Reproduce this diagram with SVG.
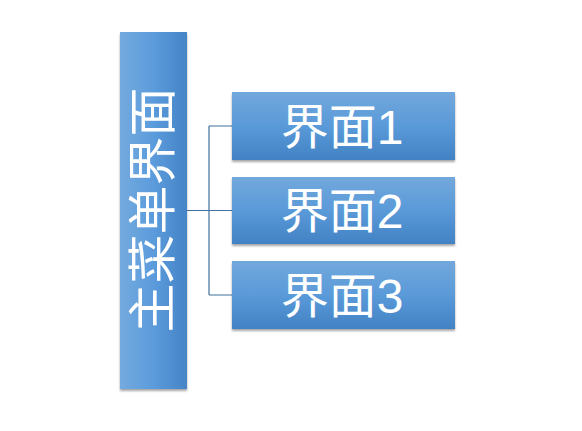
<svg xmlns="http://www.w3.org/2000/svg" width="582" height="431" viewBox="0 0 582 431">
<defs>
<linearGradient id="gh" x1="0" y1="0" x2="1" y2="0">
<stop offset="0" stop-color="#74aade"/>
<stop offset="0.5" stop-color="#5b9bdc"/>
<stop offset="1" stop-color="#4584c6"/>
</linearGradient>
<linearGradient id="gv" x1="0" y1="0" x2="0" y2="1">
<stop offset="0" stop-color="#72a8dc"/>
<stop offset="0.5" stop-color="#5a9ad9"/>
<stop offset="1" stop-color="#4282c4"/>
</linearGradient>
<filter id="sh" x="-10%" y="-10%" width="120%" height="130%">
<feDropShadow dx="0" dy="2" stdDeviation="1.2" flood-color="#000" flood-opacity="0.35"/>
</filter>
</defs>
<style>
.t{fill:#fff;font-family:"Liberation Sans","Noto Sans CJK SC",sans-serif;text-anchor:middle;}
.c{stroke:#41719c;stroke-width:1.2;fill:none;}
</style>
<rect width="582" height="431" fill="#fff"/>
<g id="connectors">
<path class="c" d="M187 210.5H209M209 126V295M209 126H232M209 210.5H232M209 295H232"/>
</g>
<g id="main">
<rect x="120" y="32" width="67" height="357" fill="url(#gh)" filter="url(#sh)"/>
<text class="t" font-size="49" transform="translate(170,210) rotate(-90)">主菜单界面</text>
</g>
<g id="n1">
<rect x="232" y="92" width="223" height="68" fill="url(#gv)" filter="url(#sh)"/>
<text class="t" x="342" y="144" font-size="48">界面1</text>
</g>
<g id="n2">
<rect x="232" y="177" width="223" height="67" fill="url(#gv)" filter="url(#sh)"/>
<text class="t" x="342" y="228" font-size="48">界面2</text>
</g>
<g id="n3">
<rect x="232" y="261" width="223" height="68" fill="url(#gv)" filter="url(#sh)"/>
<text class="t" x="342" y="313" font-size="48">界面3</text>
</g>
</svg>
